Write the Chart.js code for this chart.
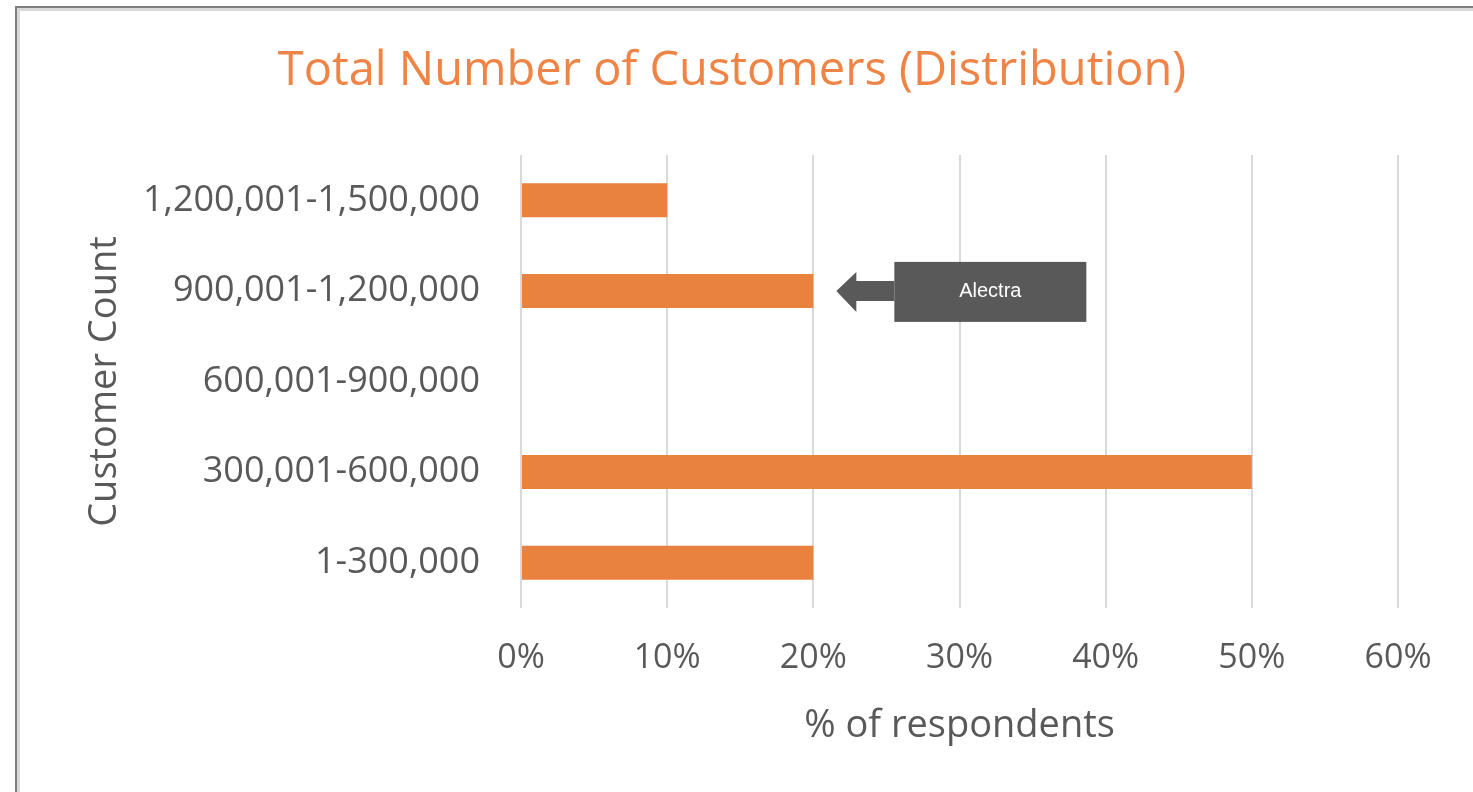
<!DOCTYPE html>
<html lang="en">
<head>
  <meta charset="UTF-8">
  <title>Total Number of Customers (Distribution)</title>
  <script src="https://cdn.jsdelivr.net/npm/chart.js"></script>
  <style>
    html, body { margin: 0; padding: 0; background: #fff; overflow: hidden; }
    #wrap { position: relative; width: 1473px; height: 792px; }
  </style>
</head>
<body>
  <div id="wrap"><canvas id="grafico" width="1473" height="792"></canvas></div>

  <script>
    // data
    const categorias = ['1,200,001-1,500,000', '900,001-1,200,000', '600,001-900,000', '300,001-600,000', '1-300,000'];
    const porcentajes = [10, 20, 0, 50, 20];
    const ticksX = [0, 10, 20, 30, 40, 50, 60];
    const titulo = 'Total Number of Customers (Distribution)';
    const nota = 'Alectra';
    const notaIndice = 1;

    const naranja = '#E8823E';
    const gris = '#595959';

    // left / top frame from the original screenshot
    const marco = {
      id: 'marco',
      beforeDraw(chart) {
        const ctx = chart.ctx;
        ctx.save();
        ctx.fillStyle = '#7f7f7f';
        ctx.fillRect(15, 6, 2, chart.height);
        ctx.fillRect(15, 6, chart.width, 2);
        ctx.fillStyle = '#d9d9d9';
        ctx.fillRect(17, 8, 3, chart.height);
        ctx.fillRect(17, 8, chart.width, 3);
        ctx.restore();
      }
    };

    // title is offset to the right of the chart's center, so draw it here
    const cabecera = {
      id: 'cabecera',
      afterDraw(chart) {
        const ctx = chart.ctx;
        ctx.save();
        ctx.fillStyle = '#EE8446';
        ctx.font = '47px "Open Sans", sans-serif';
        ctx.textAlign = 'center';
        ctx.textBaseline = 'middle';
        ctx.fillText(titulo, 732, 72);
        ctx.restore();
      }
    };

    // callout arrow pointing at a bar
    const flecha = {
      id: 'flecha',
      afterDraw(chart) {
        const ctx = chart.ctx;
        const x = chart.scales.x, y = chart.scales.y;
        const yc = y.getPixelForValue(notaIndice);
        const punta = x.getPixelForValue(porcentajes[notaIndice]) + 23;
        ctx.save();
        ctx.fillStyle = gris;
        ctx.beginPath();
        ctx.moveTo(punta, yc);
        ctx.lineTo(punta + 20, yc - 19);
        ctx.lineTo(punta + 20, yc - 10);
        ctx.lineTo(punta + 58, yc - 10);
        ctx.lineTo(punta + 58, yc + 10);
        ctx.lineTo(punta + 20, yc + 10);
        ctx.lineTo(punta + 20, yc + 21);
        ctx.closePath();
        ctx.fill();
        ctx.fillRect(punta + 58, yc - 29, 192, 60);
        ctx.fillStyle = '#ffffff';
        ctx.font = '20px "Liberation Sans", Arial, sans-serif';
        ctx.textAlign = 'center';
        ctx.textBaseline = 'middle';
        ctx.fillText(nota, punta + 58 + 96, yc + 1);
        ctx.restore();
      }
    };

    new Chart(document.getElementById('grafico'), {
      type: 'bar',
      data: {
        labels: categorias,
        datasets: [{
          label: '% of respondents',
          data: porcentajes,
          backgroundColor: naranja,
          categoryPercentage: 1,
          barPercentage: 0.375
        }]
      },
      plugins: [marco, cabecera, flecha],
      options: {
        indexAxis: 'y',
        responsive: false,
        animation: false,
        devicePixelRatio: 1,
        layout: { padding: { left: 0, right: 75, top: 155, bottom: 0 } },
        scales: {
          x: {
            min: 0,
            max: 60,
            afterBuildTicks: s => { s.ticks = ticksX.map(v => ({ value: v })); },
            afterFit: s => { s.height = 184; },
            grid: { color: '#d9d9d9', lineWidth: 2, drawTicks: false },
            border: { display: false },
            ticks: {
              color: gris,
              padding: 30,
              font: { family: '"Open Sans", sans-serif', size: 34 },
              callback: v => v + '%'
            },
            title: {
              display: true,
              text: '% of respondents',
              color: gris,
              font: { family: '"Open Sans", sans-serif', size: 38 },
              padding: { top: 0, bottom: 43 }
            }
          },
          y: {
            afterFit: s => { s.width = 521; },
            grid: { display: false, drawTicks: false },
            border: { display: false },
            ticks: {
              color: gris,
              padding: 41,
              font: { family: '"Open Sans", sans-serif', size: 36 }
            },
            title: {
              display: true,
              text: 'Customer Count',
              color: gris,
              font: { family: '"Open Sans", sans-serif', size: 38 },
              padding: { top: 82, bottom: 0 }
            }
          }
        },
        plugins: {
          legend: { display: false },
          tooltip: { enabled: false },
          title: { display: false }
        }
      }
    });
  </script>
</body>
</html>
